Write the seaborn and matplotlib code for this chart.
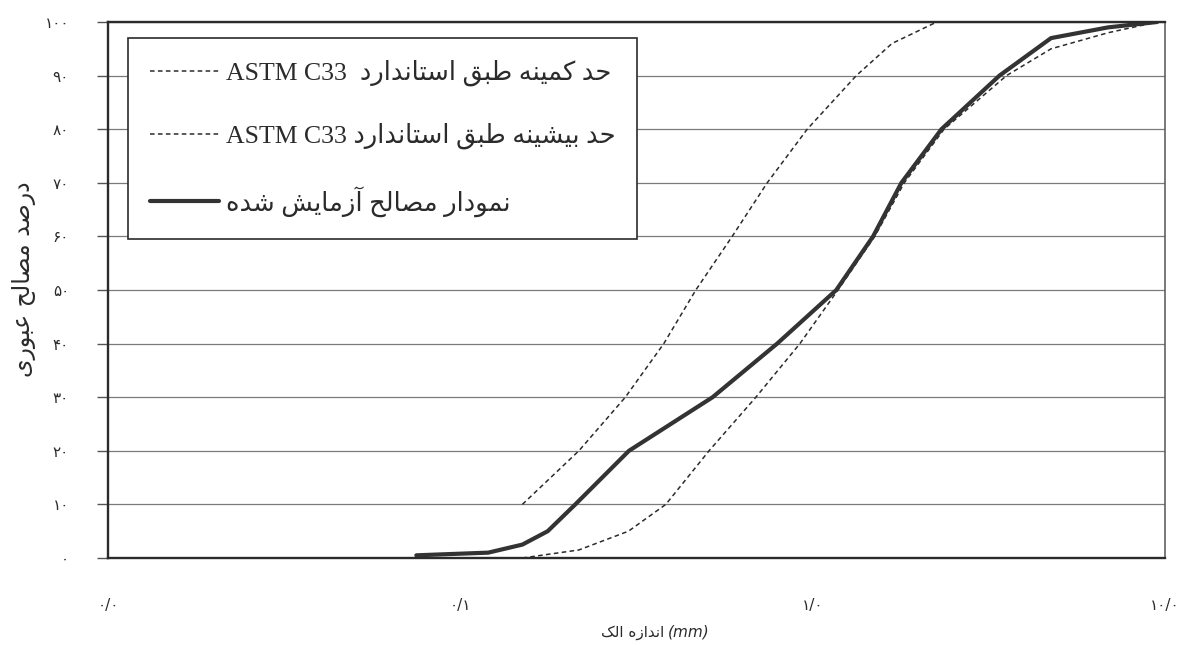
import matplotlib
matplotlib.use("Agg")
import matplotlib.pyplot as plt
import pandas as pd
import seaborn as sns
from matplotlib import font_manager as fm
from matplotlib.ft2font import FT2Font
from matplotlib.lines import Line2D

# ---- grading curves: particle size (mm) vs. percent passing ----
# tested aggregate
tested_size_mm = [0.075, 0.12, 0.15, 0.177, 0.212, 0.301, 0.52, 0.793,
                  1.167, 1.484, 1.786, 2.32, 3.39, 4.75, 6.9, 9.5]
tested_passing = [0.5, 1.0, 2.5, 5, 10, 20, 30, 40,
                  50, 60, 70, 80, 90, 97, 99, 100]

# ASTM C33 lower bound
min_size_mm = [0.15, 0.217, 0.3, 0.383, 0.508, 0.69, 0.92, 1.18,
               1.50, 1.82, 2.36, 3.55, 4.75, 6.9, 9.5]
min_passing = [0, 1.5, 5, 10, 20, 30, 40, 50,
               60, 70, 80, 90, 95, 98, 100]

# ASTM C33 upper bound
max_size_mm = [0.15, 0.217, 0.294, 0.378, 0.466, 0.591, 0.743, 0.965,
               1.33, 1.68, 2.25, 4.75, 9.5]
max_passing = [10, 20, 30, 40, 50, 60, 70, 80,
               90, 96, 100, 100, 100]

y_ticks = [0, 10, 20, 30, 40, 50, 60, 70, 80, 90, 100]
x_ticks = [0.01, 0.1, 1, 10]
x_tick_text = ["0/0", "0/1", "1/0", "10/0"]

label_min = "حد کمینه طبق استاندارد"
label_max = "حد بیشینه طبق استاندارد"
label_tested = "نمودار مصالح آزمایش شده"
astm_name = "ASTM C33"
y_title = "درصد مصالح عبوری"
x_title = "اندازه الک"

# ---- minimal Persian shaping (presentation forms + visual order) ----
dejavu_cmap = set(FT2Font(fm.findfont("DejaVu Sans")).get_charmap().keys())

FORMS = {
    "ا": ("\uFE8D", "\uFE8E", None, None),
    "آ": ("\uFE81", "\uFE82", None, None),
    "د": ("\uFEA9", "\uFEAA", None, None),
    "ر": ("\uFEAD", "\uFEAE", None, None),
    "ز": ("\uFEAF", "\uFEB0", None, None),
    "و": ("\uFEED", "\uFEEE", None, None),
    "ب": ("\uFE8F", "\uFE90", "\uFE91", "\uFE92"),
    "ت": ("\uFE95", "\uFE96", "\uFE97", "\uFE98"),
    "ح": ("\uFEA1", "\uFEA2", "\uFEA3", "\uFEA4"),
    "س": ("\uFEB1", "\uFEB2", "\uFEB3", "\uFEB4"),
    "ش": ("\uFEB5", "\uFEB6", "\uFEB7", "\uFEB8"),
    "ص": ("\uFEB9", "\uFEBA", "\uFEBB", "\uFEBC"),
    "ط": ("\uFEC1", "\uFEC2", "\uFEC3", "\uFEC4"),
    "ع": ("\uFEC9", "\uFECA", "\uFECB", "\uFECC"),
    "ق": ("\uFED5", "\uFED6", "\uFED7", "\uFED8"),
    "ل": ("\uFEDD", "\uFEDE", "\uFEDF", "\uFEE0"),
    "م": ("\uFEE1", "\uFEE2", "\uFEE3", "\uFEE4"),
    "ن": ("\uFEE5", "\uFEE6", "\uFEE7", "\uFEE8"),
    "ه": ("\uFEE9", "\uFEEA", "\uFEEB", "\uFEEC"),
}
if all(ord(c) in dejavu_cmap for c in "\uFBFC\uFBFD\uFBFE\uFBFF"):
    FORMS["ی"] = ("\uFBFC", "\uFBFD", "\uFBFE", "\uFBFF")
else:
    FORMS["ی"] = ("\uFEEF", "\uFEF0", "\uFEF3", "\uFEF4")
if all(ord(c) in dejavu_cmap for c in "\uFB8E\uFB8F\uFB90\uFB91"):
    FORMS["ک"] = ("\uFB8E", "\uFB8F", "\uFB90", "\uFB91")
else:
    FORMS["ک"] = ("\uFED9", "\uFEDA", "\uFEDB", "\uFEDC")

DUAL = set("بتحسشصطعقلمنهیک")


def shape(text):
    out = []
    for i, ch in enumerate(text):
        if ch not in FORMS:
            out.append(ch)
            continue
        prev = text[i - 1] if i > 0 else ""
        nxt = text[i + 1] if i + 1 < len(text) else ""
        j_prev = prev in DUAL
        j_next = ch in DUAL and nxt in FORMS
        iso, fin, ini, med = FORMS[ch]
        if j_prev and j_next:
            out.append(med)
        elif j_prev:
            out.append(fin)
        elif j_next:
            out.append(ini)
        else:
            out.append(iso)
    return "".join(reversed(out))


digit_base = 0x06F0 if 0x06F4 in dejavu_cmap else 0x0660


def fa_digits(s):
    return "".join(chr(digit_base + int(c)) if c.isdigit() else c for c in s)


# ---- figure ----
sns.set_theme(style="white")
plt.rcParams["font.family"] = ["DejaVu Sans"]
ink = "#2b2b2b"
dash = (0, (3.0, 2.2))

fig = plt.figure(figsize=(11.99, 6.45), dpi=100)
fig.patch.set_facecolor("white")
ax = fig.add_axes([108 / 1199, 1 - 558 / 645, (1165 - 108) / 1199, (558 - 22) / 645])
ax.set_xscale("log")

df_min = pd.DataFrame({"size": min_size_mm, "passing": min_passing})
df_max = pd.DataFrame({"size": max_size_mm, "passing": max_passing})
df_test = pd.DataFrame({"size": tested_size_mm, "passing": tested_passing})

sns.lineplot(data=df_min, x="size", y="passing", ax=ax, color=ink,
             linewidth=1.1, linestyle=dash, estimator=None, sort=False)
sns.lineplot(data=df_max, x="size", y="passing", ax=ax, color=ink,
             linewidth=1.1, linestyle=dash, estimator=None, sort=False)
sns.lineplot(data=df_test, x="size", y="passing", ax=ax, color="#333333",
             linewidth=3.0, estimator=None, sort=False,
             solid_capstyle="round", solid_joinstyle="round")

ax.set_xlim(0.01, 10)
ax.set_ylim(0, 100)
ax.set_xticks(x_ticks)
ax.set_xticklabels([fa_digits(t) for t in x_tick_text])
ax.xaxis.set_minor_locator(matplotlib.ticker.NullLocator())
ax.set_yticks(y_ticks)
ax.set_yticklabels([fa_digits(str(v)) for v in y_ticks])
ax.tick_params(axis="x", length=0, pad=29, labelsize=11, labelcolor=ink)
ax.tick_params(axis="y", length=8, width=1.0, color="#555555", pad=20,
               labelsize=11, labelcolor=ink, left=True)

ax.yaxis.grid(True, color="#7a7a7a", linewidth=0.9)
ax.xaxis.grid(False)
for side in ["left", "bottom", "top"]:
    ax.spines[side].set_color(ink)
    ax.spines[side].set_linewidth(1.7)
ax.spines["right"].set_color("#555555")
ax.spines["right"].set_linewidth(1.1)

ax.set_xlabel("")
ax.set_ylabel(shape(y_title), fontsize=17, color=ink)
ax.yaxis.set_label_coords(-0.068, 0.52)

fig.text(664 / 1199, 1 - 632 / 645, shape(x_title), fontsize=11, color=ink,
         ha="right", va="center")
fig.text(668 / 1199, 1 - 632 / 645, "(mm)", fontsize=11, color=ink,
         ha="left", va="center", style="italic")

# ---- legend ----
handles = [
    Line2D([], [], color=ink, linewidth=1.1, linestyle=dash),
    Line2D([], [], color=ink, linewidth=1.1, linestyle=dash),
    Line2D([], [], color="#333333", linewidth=3.0),
]
labels = [
    astm_name + "  " + shape(label_min),
    astm_name + " " + shape(label_max),
    shape(label_tested),
]
leg = ax.legend(handles, labels, loc="upper left", bbox_to_anchor=(0.019, 0.97),
                borderaxespad=0, frameon=True, fancybox=False, framealpha=1,
                edgecolor=ink, handlelength=2.7, handletextpad=0.25,
                labelspacing=1.42, borderpad=0.85,
                prop={"family": ["Liberation Serif", "DejaVu Sans"], "size": 18.5})
leg.get_frame().set_linewidth(1.2)
for t in leg.get_texts():
    t.set_color(ink)

fig.savefig("out.png", dpi=100, facecolor="white")
